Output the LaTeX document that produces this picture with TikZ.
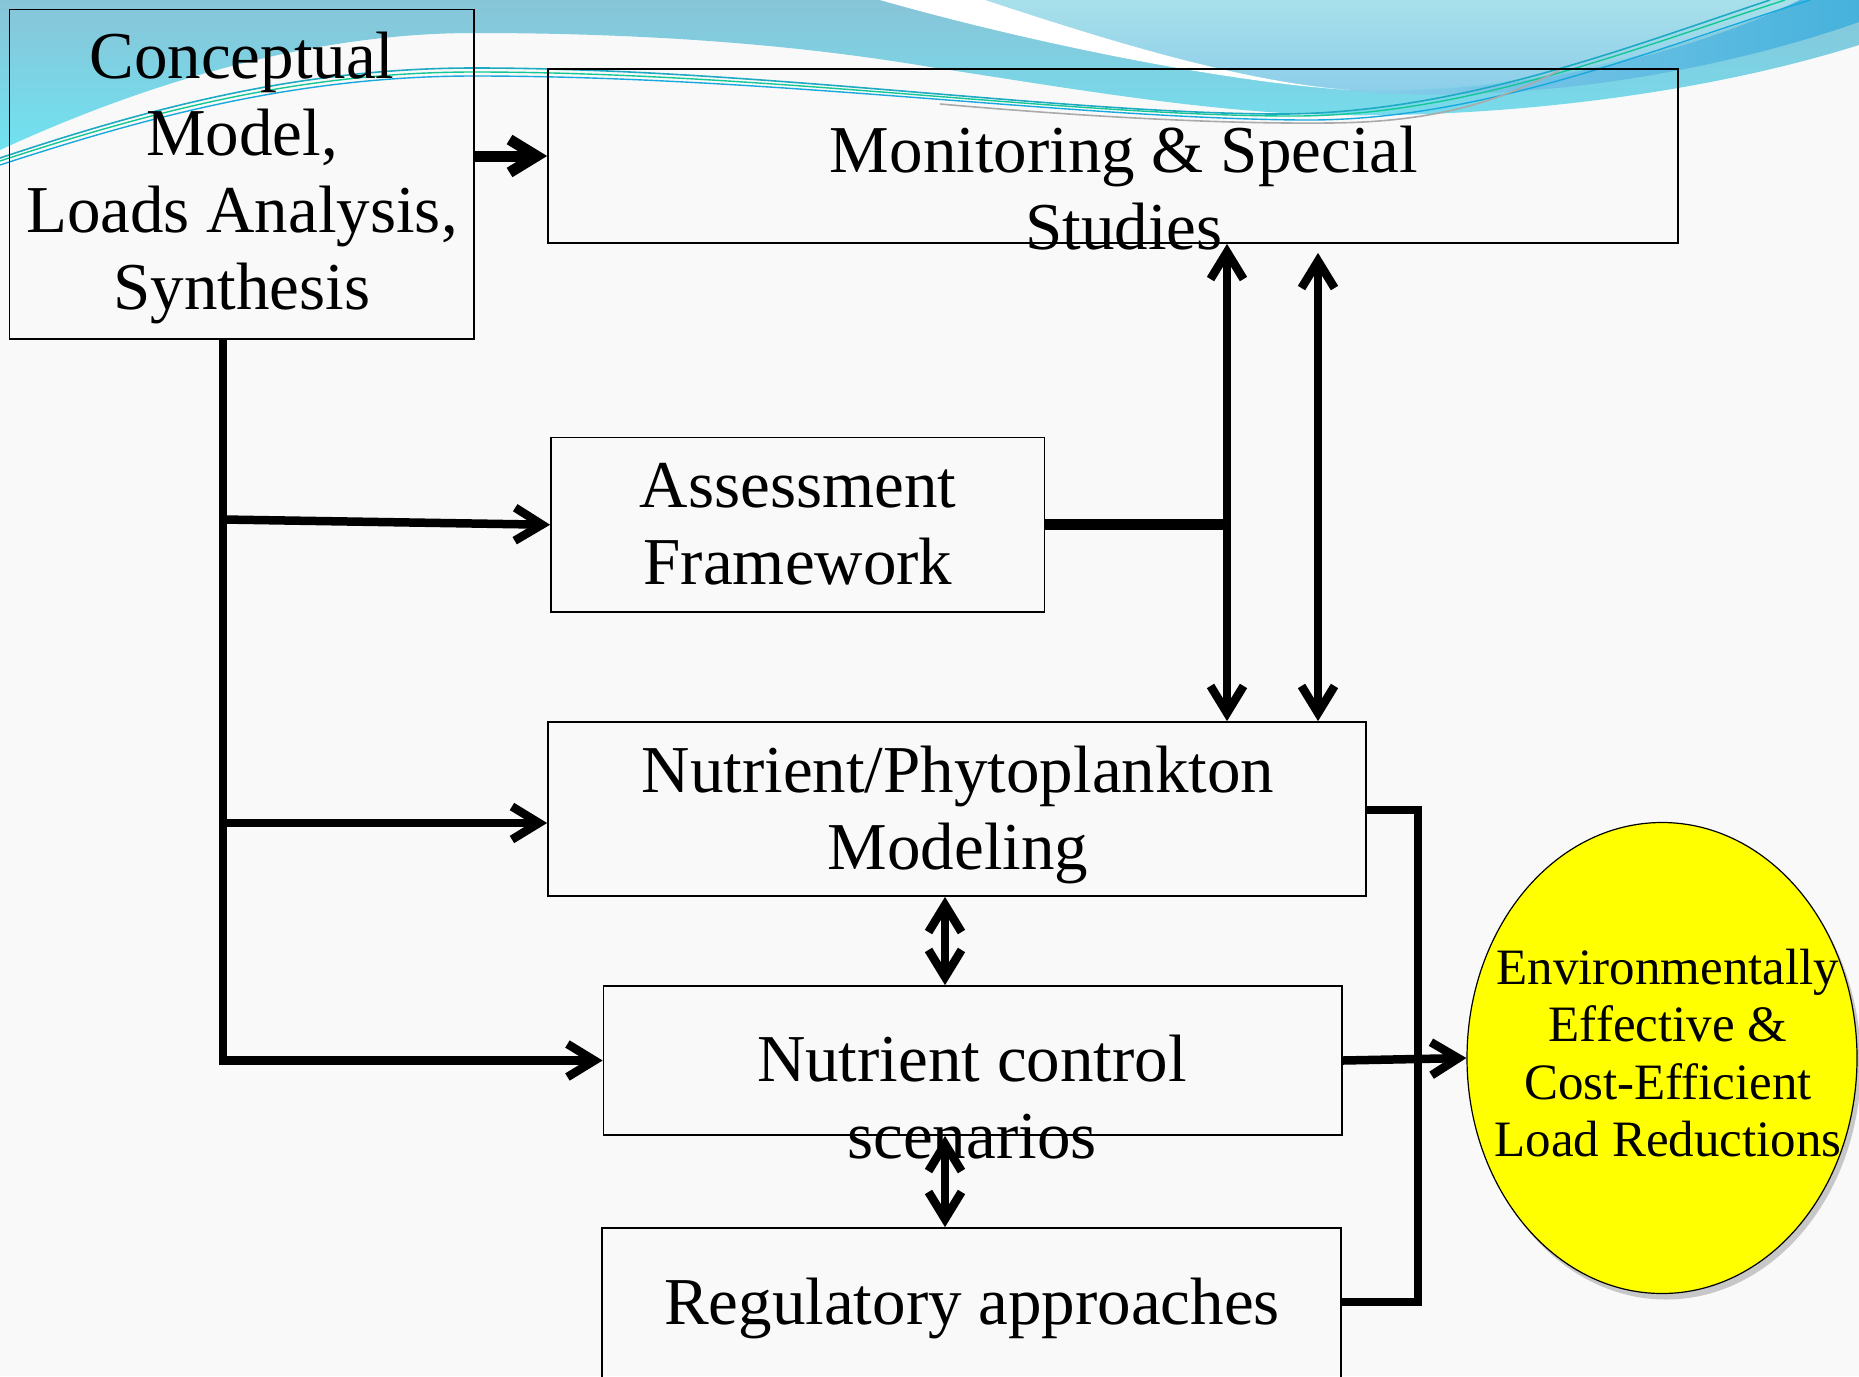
\documentclass[tikz,border=0pt]{standalone}
\usepackage{fontspec}
\setmainfont{Liberation Serif}
\usetikzlibrary{arrows.meta,shapes.geometric,shadows,calc}
\definecolor{bgc}{RGB}{249,249,249}
\definecolor{steel}{RGB}{136,196,216}
\definecolor{cyanw}{RGB}{112,226,240}
\definecolor{ltcyanA}{RGB}{168,224,234}
\definecolor{ltcyanB}{RGB}{140,205,234}
\definecolor{brblueA}{RGB}{140,205,235}
\definecolor{brblueB}{RGB}{70,178,220}
\definecolor{ylw}{RGB}{255,255,0}
\definecolor{lnteal}{RGB}{30,170,195}
\definecolor{lngreen}{RGB}{20,200,150}
\definecolor{lnblue}{RGB}{40,110,200}
\definecolor{lngray}{RGB}{170,170,170}
\newcommand{\boxfont}{\fontsize{67}{77}\selectfont}
\newcommand{\ellfont}{\fontsize{51}{57.5}\selectfont}
\newcommand{\tlines}[1]{\parbox[t]{1000pt}{\centering #1}}
\begin{document}
\begin{tikzpicture}[x=1pt,y=-1pt,
  box/.style={draw=black, line width=1.8pt, rectangle, inner sep=0pt},
  txt/.style={anchor=base, inner sep=0pt, font=\boxfont},
  etxt/.style={anchor=base, inner sep=0pt, font=\ellfont},
  barb/.tip={Straight Barb[length=27pt,width=33pt]},
  conn/.style={line width=8.5pt, -barb},
  dconn/.style={line width=8.5pt, barb-barb},
  bar/.style={line width=11pt},
  bracket/.style={line width=8.5pt, line join=miter},
]
\useasboundingbox (0,0) rectangle (1859,1376);
\clip (0,0) rectangle (1859,1376);
% background
\fill[bgc] (0,0) rectangle (1859,1376);
% waves
\shade[top color=steel, bottom color=cyanw]
  (0,0) -- (1859,0) -- (1859,45)
  .. controls (1700,95) and (1500,118) .. (1330,115)
  .. controls (1200,112) and (1050,85) .. (930,67)
  .. controls (800,45) and (650,33) .. (474,33)
  .. controls (300,33) and (130,90) .. (0,150) -- cycle;
\shade[top color=ltcyanA, bottom color=ltcyanB]
  (985,0) .. controls (1100,38) and (1240,82) .. (1350,90)
  .. controls (1520,96) and (1700,45) .. (1800,0) -- cycle;
\shade[left color=brblueA, right color=brblueB]
  (1340,90) .. controls (1520,98) and (1700,50) .. (1800,0)
  -- (1859,0) -- (1859,22)
  .. controls (1700,78) and (1500,106) .. (1340,90) -- cycle;
\fill[white]
  (880,0) -- (985,0) .. controls (1100,38) and (1240,82) .. (1350,90)
  .. controls (1220,82) and (1020,40) .. (880,0) -- cycle;
% thin lines
\draw[lnteal, line width=1.6pt] (0,158) .. controls (150,108) and (300,68) .. (474,68)
  .. controls (750,68) and (1050,112) .. (1270,114) .. controls (1450,116) and (1620,50) .. (1770,0);
\draw[lngreen, line width=1.4pt] (0,161) .. controls (150,112) and (300,72) .. (474,72)
  .. controls (760,72) and (1060,115) .. (1285,116) .. controls (1460,118) and (1630,50) .. (1785,0);
\draw[lnblue!60!cyan, line width=1.4pt] (0,165) .. controls (150,116) and (300,76) .. (474,76)
  .. controls (770,76) and (1070,118) .. (1300,120) .. controls (1480,122) and (1650,50) .. (1810,0);
\draw[lngray, line width=1.6pt] (940,104) .. controls (1100,118) and (1230,124) .. (1330,123)
  .. controls (1440,122) and (1500,100) .. (1560,70);

% boxes
\node[box, minimum width=464.5pt, minimum height=329.5pt] (concept) at (241.75,174.25) {};
\node[box, minimum width=1130pt, minimum height=174pt] (mon) at (1113,156) {};
\node[box, minimum width=493.5pt, minimum height=174.5pt] (assess) at (797.75,524.75) {};
\node[box, minimum width=818pt, minimum height=174pt] (npm) at (957,809) {};
\node[box, minimum width=738.5pt, minimum height=149pt] (ncs) at (972.75,1060.5) {};
\node[box, minimum width=739pt, minimum height=172pt] (reg) at (971.5,1314) {};
\node[ellipse, draw=black, line width=1.2pt, fill=ylw, inner sep=0pt,
  minimum width=390pt, minimum height=471pt,
  drop shadow={shadow xshift=4pt, shadow yshift=-6pt, fill=black!45, opacity=0.45}] (goal) at (1662,1058) {};

% texts
\node[txt] (tconcept) at (242,78) {\tlines{Conceptual\\Model,\\Loads Analysis,\\Synthesis}};
\node[txt] (tmon) at (1124,172) {\tlines{Monitoring \& Special\\Studies}};
\node[txt] (tassess) at (798,507) {\tlines{Assessment\\Framework}};
\node[txt] (tnpm) at (958,792) {\tlines{Nutrient/Phytoplankton\\Modeling}};
\node[txt] (tncs) at (972,1081) {\tlines{Nutrient control\\scenarios}};
\node[txt] (treg) at (972,1324) {\tlines{Regulatory approaches}};
\node[etxt] (tgoal) at (1668,984) {\tlines{Environmentally\\Effective \&\\Cost-Efficient\\Load Reductions}};

% helper coordinates
\coordinate (tk) at (223,0);
\coordinate (v1) at (1227,0);
\coordinate (v2) at (1318,0);
\coordinate (cx) at (945,0);
\coordinate (ja) at (223,519.5);
\coordinate (jn) at (223,823);
\coordinate (b1) at (1418,810);
\coordinate (b2) at (1418,1302);

% connectors
\draw[conn, line width=11pt] (concept.east |- mon.west) -- (mon.west);
\draw[conn] (tk |- concept.south) |- (ncs.west);
\draw[conn] (ja) -- (assess.west);
\draw[conn] (jn) -- (jn -| npm.west);
\draw[bar] (assess.east) -- (assess.east -| v1);
\draw[dconn] (mon.south -| v1) -- (npm.north -| v1);
\draw[dconn] ($(mon.south -| v2)+(0,9)$) -- (npm.north -| v2);
\draw[dconn] (npm.south -| cx) -- (ncs.north -| cx);
\draw[dconn] (ncs.south -| cx) -- (reg.north -| cx);
\draw[bracket] (b1 -| npm.east) -- (b1) -- (b2) -- (b2 -| reg.east);
\draw[conn] (ncs.east) -- (goal.west);
\end{tikzpicture}
\end{document}
